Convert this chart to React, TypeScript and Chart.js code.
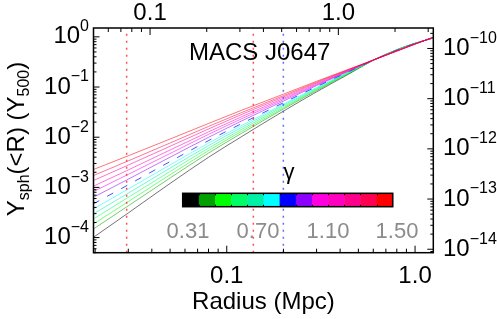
import React, { useEffect, useRef } from 'react';
import { Chart, registerables } from 'chart.js';

Chart.register(...registerables);

// Radius sample points (Mpc)
const radiusMpc = [0.0195, 0.03, 0.05, 0.08, 0.12, 0.2, 0.3, 0.45, 0.6, 0.8, 1.0, 1.25];

// Inner slope values of the 13 curves
const gammaValues = [0.31, 0.41, 0.51, 0.61, 0.71, 0.8, 0.9, 1.0, 1.1, 1.2, 1.3, 1.4, 1.5];

// Y_sph(<R) in units of Y500, one array per gamma
const ysph_g031 = [1.0e-4, 3.1e-4, 1.2e-3, 3.98e-3, 1.03e-2, 3.31e-2, 8.02e-2, 0.186, 0.342, 0.555, 0.748, 0.942];
const ysph_g041 = [1.47e-4, 4.3e-4, 1.54e-3, 4.83e-3, 1.2e-2, 3.65e-2, 8.51e-2, 0.191, 0.342, 0.55, 0.744, 0.947];
const ysph_g051 = [1.85e-4, 5.21e-4, 1.79e-3, 5.41e-3, 1.31e-2, 3.86e-2, 8.83e-2, 0.195, 0.342, 0.547, 0.742, 0.95];
const ysph_g061 = [2.33e-4, 6.34e-4, 2.08e-3, 6.07e-3, 1.43e-2, 4.09e-2, 9.14e-2, 0.198, 0.343, 0.544, 0.739, 0.954];
const ysph_g071 = [2.94e-4, 7.69e-4, 2.43e-3, 6.81e-3, 1.57e-2, 4.34e-2, 9.48e-2, 0.201, 0.343, 0.542, 0.736, 0.957];
const ysph_g080 = [3.69e-4, 9.31e-4, 2.81e-3, 7.62e-3, 1.71e-2, 4.59e-2, 9.82e-2, 0.204, 0.343, 0.539, 0.734, 0.961];
const ysph_g090 = [4.66e-4, 1.13e-3, 3.27e-3, 8.55e-3, 1.87e-2, 4.86e-2, 0.102, 0.207, 0.343, 0.536, 0.731, 0.964];
const ysph_g100 = [6.31e-4, 1.46e-3, 4.0e-3, 9.95e-3, 2.11e-2, 5.25e-2, 0.107, 0.212, 0.344, 0.533, 0.728, 0.969];
const ysph_g110 = [8.2e-4, 1.82e-3, 4.74e-3, 1.14e-2, 2.33e-2, 5.6e-2, 0.111, 0.215, 0.344, 0.529, 0.725, 0.973];
const ysph_g120 = [1.05e-3, 2.23e-3, 5.56e-3, 1.28e-2, 2.56e-2, 5.94e-2, 0.115, 0.219, 0.344, 0.527, 0.722, 0.976];
const ysph_g130 = [1.36e-3, 2.79e-3, 6.61e-3, 1.46e-2, 2.84e-2, 6.35e-2, 0.12, 0.223, 0.345, 0.524, 0.72, 0.98];
const ysph_g140 = [1.71e-3, 3.38e-3, 7.67e-3, 1.64e-2, 3.1e-2, 6.73e-2, 0.125, 0.227, 0.345, 0.521, 0.717, 0.984];
const ysph_g150 = [2.26e-3, 4.27e-3, 9.2e-3, 1.88e-2, 3.45e-2, 7.21e-2, 0.13, 0.231, 0.345, 0.518, 0.715, 0.986];

const seriesList = [
  ysph_g031, ysph_g041, ysph_g051, ysph_g061, ysph_g071, ysph_g080, ysph_g090,
  ysph_g100, ysph_g110, ysph_g120, ysph_g130, ysph_g140, ysph_g150,
];

// colour table (one per gamma)
const gammaColors = [
  [0, 0, 0], [0, 160, 0], [0, 255, 0], [0, 255, 100], [0, 240, 165], [0, 255, 255], [0, 0, 255],
  [140, 0, 255], [255, 0, 225], [255, 0, 190], [255, 0, 140], [255, 0, 80], [255, 0, 0],
];
const dashedGammaIndex = 6;

// vertical marker radii (Mpc)
const redMarkers = [0.0294, 0.1384];
const blueMarkers = [0.1998];

// axes
const xRange = [0.0196, 1.25];
const yRange = [5e-5, 1.5];
const arcminPerMpc = 2.555;
const yphysPerY500 = 1.706e-10;
const xMajorTicks = [0.1, 1.0];
const xTickLabels = ['0.1', '1.0'];
const topMajorTicks = [0.1, 1.0];
const topTickLabels = ['0.1', '1.0'];
const yExponents = [-4, -3, -2, -1, 0];
const y2Exponents = [-14, -13, -12, -11, -10];
const colorbarLabels = ['0.31', '0.70', '1.10', '1.50'];

const FONT = '"Liberation Sans", Arial, Helvetica, sans-serif';

function minorTicks(min: number, max: number): number[] {
  const out: number[] = [];
  const k0 = Math.floor(Math.log10(min)) - 1;
  const k1 = Math.ceil(Math.log10(max)) + 1;
  for (let k = k0; k <= k1; k++) {
    for (let m = 2; m <= 9; m++) {
      const v = m * Math.pow(10, k);
      if (v >= min && v <= max) out.push(v);
    }
  }
  return out;
}

const rgba = (c: number[], a: number) => `rgba(${c[0]},${c[1]},${c[2]},${a})`;

function drawPow(ctx: CanvasRenderingContext2D, exp: number, x: number, y: number, align: 'left' | 'right') {
  const base = '10';
  const sup = exp < 0 ? '\u2212' + String(-exp) : String(exp);
  ctx.font = `24px ${FONT}`;
  const wb = ctx.measureText(base).width;
  ctx.font = `16px ${FONT}`;
  const ws = ctx.measureText(sup).width;
  const start = align === 'right' ? x - wb - ws : x;
  ctx.textAlign = 'left';
  ctx.textBaseline = 'middle';
  ctx.font = `24px ${FONT}`;
  ctx.fillText(base, start, y);
  ctx.font = `16px ${FONT}`;
  ctx.fillText(sup, start + wb, y - 10);
}

const decorPlugin = {
  id: 'decor',
  afterDatasetsDraw(chart: any) {
    const ctx: CanvasRenderingContext2D = chart.ctx;
    const { left, right, top, bottom } = chart.chartArea;
    const sx = chart.scales.x;
    const sx2 = chart.scales.x2;
    const sy = chart.scales.y;
    const sy2 = chart.scales.y2;
    ctx.save();

    // colour bar
    const cbL = 182.7, cbR = 392.7, cbT = 193.3, cbB = 206.7;
    const n = gammaColors.length;
    const bw = (cbR - cbL) / n;
    for (let i = 0; i < n; i++) {
      ctx.fillStyle = rgba(gammaColors[i], 1);
      ctx.fillRect(cbL + i * bw, cbT, bw + 0.5, cbB - cbT);
    }
    ctx.strokeStyle = '#000';
    ctx.lineWidth = 1.5;
    ctx.strokeRect(cbL, cbT, cbR - cbL, cbB - cbT);
    ctx.lineWidth = 1;
    for (let i = 1; i < n; i++) {
      const xx = Math.round(cbL + i * bw) + 0.5;
      ctx.beginPath();
      ctx.moveTo(xx, cbT);
      ctx.lineTo(xx, cbT + 2);
      ctx.moveTo(xx, cbB);
      ctx.lineTo(xx, cbB - 2);
      ctx.stroke();
    }
    ctx.fillStyle = '#8c8c8c';
    ctx.font = `22px ${FONT}`;
    ctx.textAlign = 'center';
    ctx.textBaseline = 'middle';
    const cbLabelX = [188, 258, 328, 397];
    colorbarLabels.forEach((t, i) => ctx.fillText(t, cbLabelX[i], 232));
    ctx.fillStyle = '#000';
    ctx.font = `22px ${FONT}`;
    ctx.textBaseline = 'alphabetic';
    ctx.fillText('\u03b3', 289, 179);

    // title text
    ctx.font = `24px ${FONT}`;
    ctx.textAlign = 'left';
    ctx.fillText('MACS J0647', 189, 60);

    // frame
    ctx.strokeStyle = '#000';
    ctx.lineWidth = 1.5;
    ctx.strokeRect(left, top, right - left, bottom - top);

    // ticks
    ctx.lineWidth = 1;
    const tick = (x0: number, y0: number, x1: number, y1: number) => {
      ctx.beginPath();
      ctx.moveTo(x0, y0);
      ctx.lineTo(x1, y1);
      ctx.stroke();
    };
    xMajorTicks.forEach((v) => { const p = sx.getPixelForValue(v); tick(p, bottom, p, bottom - 7); });
    minorTicks(xRange[0], xRange[1]).forEach((v) => { const p = sx.getPixelForValue(v); tick(p, bottom, p, bottom - 4); });
    topMajorTicks.forEach((v) => { const p = sx2.getPixelForValue(v); tick(p, top, p, top + 7); });
    minorTicks(sx2.min, sx2.max).forEach((v) => { const p = sx2.getPixelForValue(v); tick(p, top, p, top + 4); });
    yExponents.forEach((e) => { const p = sy.getPixelForValue(Math.pow(10, e)); tick(left, p, left + 6, p); });
    minorTicks(yRange[0], yRange[1]).forEach((v) => { const p = sy.getPixelForValue(v); tick(left, p, left + 3, p); });
    y2Exponents.forEach((e) => { const p = sy2.getPixelForValue(Math.pow(10, e)); tick(right, p, right - 6, p); });
    minorTicks(sy2.min, sy2.max).forEach((v) => { const p = sy2.getPixelForValue(v); tick(right, p, right - 3, p); });

    // tick labels
    ctx.fillStyle = '#000';
    ctx.font = `24px ${FONT}`;
    ctx.textAlign = 'center';
    ctx.textBaseline = 'middle';
    xMajorTicks.forEach((v, i) => ctx.fillText(xTickLabels[i], sx.getPixelForValue(v), 276));
    topMajorTicks.forEach((v, i) => ctx.fillText(topTickLabels[i], sx2.getPixelForValue(v), 13));
    yExponents.forEach((e) => drawPow(ctx, e, 89, sy.getPixelForValue(Math.pow(10, e)), 'right'));
    y2Exponents.forEach((e) => drawPow(ctx, e, 443, sy2.getPixelForValue(Math.pow(10, e)), 'left'));

    // axis titles
    ctx.font = `24px ${FONT}`;
    ctx.textAlign = 'center';
    ctx.textBaseline = 'alphabetic';
    ctx.fillText('Radius (Mpc)', (left + right) / 2, 309);

    // y title with subscripts, rotated
    const parts: [string, boolean][] = [['Y', false], ['sph', true], ['(<R) (Y', false], ['500', true], [')', false]];
    let total = 0;
    const widths = parts.map(([t, sub]) => {
      ctx.font = sub ? `16px ${FONT}` : `24px ${FONT}`;
      const w = ctx.measureText(t).width;
      total += w;
      return w;
    });
    ctx.translate(24, 139);
    ctx.rotate(-Math.PI / 2);
    ctx.textAlign = 'left';
    let cx = -total / 2;
    parts.forEach(([t, sub], i) => {
      ctx.font = sub ? `16px ${FONT}` : `24px ${FONT}`;
      ctx.fillText(t, cx, sub ? 5 : 0);
      cx += widths[i];
    });
    ctx.restore();
  },
};

export default function App() {
  const ref = useRef<HTMLCanvasElement | null>(null);
  useEffect(() => {
    if (!ref.current) return;
    const markerSets: any[] = [];
    redMarkers.forEach((r) => markerSets.push({
      data: [{ x: r, y: yRange[0] }, { x: r, y: yRange[1] }],
      borderColor: 'rgba(255,50,50,0.85)', borderWidth: 1.5, borderDash: [2, 5],
      pointRadius: 0, xAxisID: 'x', yAxisID: 'y',
    }));
    blueMarkers.forEach((r) => markerSets.push({
      data: [{ x: r, y: yRange[0] }, { x: r, y: yRange[1] }],
      borderColor: 'rgba(70,80,255,0.85)', borderWidth: 1.5, borderDash: [2, 5],
      pointRadius: 0, xAxisID: 'x', yAxisID: 'y',
    }));
    const curveSets = seriesList.map((s, i) => ({
      label: `gamma ${gammaValues[i]}`,
      data: s.map((v, j) => ({ x: radiusMpc[j], y: v })),
      borderColor: rgba(gammaColors[i], i === dashedGammaIndex ? 0.7 : 0.55),
      borderWidth: 1,
      borderDash: i === dashedGammaIndex ? [7, 9] : [],
      pointRadius: 0,
      cubicInterpolationMode: 'monotone',
      xAxisID: 'x', yAxisID: 'y',
    })).reverse();
    const chart = new Chart(ref.current, {
      type: 'line',
      data: { datasets: [...markerSets, ...curveSets] },
      options: {
        responsive: false,
        animation: false,
        parsing: true,
        layout: { padding: { left: 93.5, right: 63.7, top: 28, bottom: 66.3 } },
        plugins: { legend: { display: false }, tooltip: { enabled: false } },
        scales: {
          x: { type: 'logarithmic', position: 'bottom', min: xRange[0], max: xRange[1], display: false },
          x2: { type: 'logarithmic', position: 'top', min: xRange[0] * arcminPerMpc, max: xRange[1] * arcminPerMpc, display: false },
          y: { type: 'logarithmic', position: 'left', min: yRange[0], max: yRange[1], display: false },
          y2: { type: 'logarithmic', position: 'right', min: yRange[0] * yphysPerY500, max: yRange[1] * yphysPerY500, display: false },
        },
      } as any,
      plugins: [decorPlugin],
    });
    return () => chart.destroy();
  }, []);
  return (
    <div style={{ position: 'absolute', left: 0, top: 0, width: 497, height: 319, background: '#fff' }}>
      <canvas ref={ref} width={497} height={319} style={{ display: 'block' }} />
    </div>
  );
}
